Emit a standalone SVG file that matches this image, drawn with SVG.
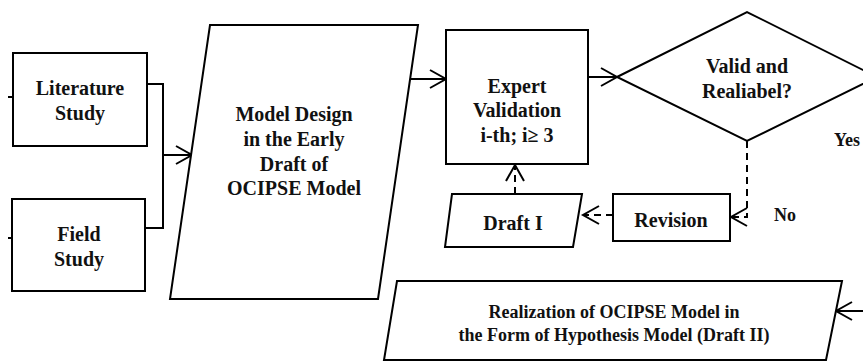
<svg xmlns="http://www.w3.org/2000/svg" width="863" height="362" viewBox="0 0 863 362">
<style>
.s{fill:#fff;stroke:#000;stroke-width:2}
.t{font-family:'Liberation Serif',Tinos,'Times New Roman',Times,'DejaVu Serif',serif;font-weight:700;font-size:20px;fill:#111;text-anchor:middle}
.sm{font-size:18px}
.md{font-size:18px}
.c{fill:none;stroke:#000;stroke-width:2}
.d{stroke-dasharray:7,5}
</style>
<defs>
<marker id="a" viewBox="-1 -1 18 20" refX="16" refY="9" markerWidth="18" markerHeight="20" markerUnits="userSpaceOnUse" orient="auto" overflow="visible">
<path d="M0,0 L16,9 L0,18" fill="none" stroke="#000" stroke-width="2"/>
</marker>
</defs>
<rect width="863" height="362" fill="#fff"/>
<g id="connectors">
<path class="c" d="M8,97 H13 M8,238 H12"/>
<path class="c" d="M147,84 H163 V228 H145"/>
<path class="c" d="M163,155 H192" marker-end="url(#a)"/>
<path class="c" d="M410,79 H446" marker-end="url(#a)"/>
<path class="c" d="M588,77 H617" marker-end="url(#a)"/>
<path class="c d" d="M747,141 V217 H731" marker-end="url(#a)"/>
<path class="c d" d="M613,215 H583" marker-end="url(#a)"/>
<path class="c d" d="M515,194 V165" marker-end="url(#a)"/>
<path class="c" d="M865,311 H836" marker-end="url(#a)"/>
</g>
<g id="literature">
<rect class="s" x="13" y="53" width="134" height="93"/>
<text class="t" x="80" y="95">Literature</text>
<text class="t" x="80" y="120">Study</text>
</g>
<g id="field">
<rect class="s" x="12" y="199" width="133" height="92"/>
<text class="t" x="79" y="241">Field</text>
<text class="t" x="79" y="266">Study</text>
</g>
<g id="model-design">
<polygon class="s" points="210,25 418,25 378,299 170,299"/>
<text class="t" x="294" y="121">Model Design</text>
<text class="t" x="294" y="146">in the Early</text>
<text class="t" x="294" y="171">Draft of</text>
<text class="t" x="294" y="195">OCIPSE Model</text>
</g>
<g id="expert">
<rect class="s" x="446" y="30" width="142" height="134"/>
<text class="t" x="517" y="93">Expert</text>
<text class="t" x="517" y="117">Validation</text>
<text class="t" x="517" y="142">i-th; i≥ 3</text>
</g>
<g id="decision">
<polygon class="s" points="617,77 747,12 877,77 747,141"/>
<text class="t" x="747" y="73">Valid and</text>
<text class="t" x="747" y="98">Realiabel?</text>
<text class="t sm" x="847" y="146">Yes</text>
<text class="t sm" x="785" y="221">No</text>
</g>
<g id="revision">
<rect class="s" x="613" y="194" width="117" height="47"/>
<text class="t" x="671" y="227">Revision</text>
</g>
<g id="draft1">
<polygon class="s" points="452,194 582,194 573,247 445,247"/>
<text class="t" x="513" y="230">Draft I</text>
</g>
<g id="realization">
<polygon class="s" points="397,281 842,281 826,360 384,360"/>
<text class="t md" x="614" y="318">Realization of OCIPSE Model in</text>
<text class="t md" x="614" y="341">the Form of Hypothesis Model (Draft II)</text>
</g>
</svg>
